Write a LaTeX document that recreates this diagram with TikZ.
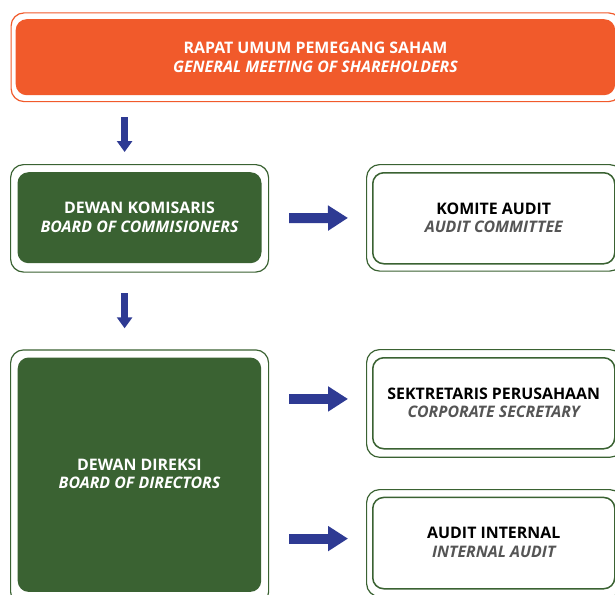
\documentclass[tikz,border=0pt]{standalone}
\usepackage{fontspec}
\setmainfont{Open Sans}[BoldFont={Open Sans Bold}, BoldItalicFont={Open Sans Bold Italic}]
\usetikzlibrary{arrows.meta}
\definecolor{rorange}{HTML}{F15A2B}
\definecolor{rgreen}{HTML}{3A6232}
\definecolor{rblue}{HTML}{2E3A93}
\definecolor{rgrey}{HTML}{555555}
\tikzset{
  outerbox/.style={draw=#1, line width=1.2pt, rounded corners=13pt, fill=white, inner sep=0pt},
  innerfill/.style={fill=#1, draw=none, rounded corners=11pt, inner sep=0pt},
  innerline/.style={draw=rgreen, line width=1.5pt, fill=white, rounded corners=11pt, inner sep=0pt},
  lbl/.style={align=center, font=\fontsize{15.9}{18.7}\selectfont\bfseries, inner sep=0pt},
  dnarrow/.style={draw=rblue, line width=6.5pt, -{Triangle[length=11pt,width=15pt]}},
  rtarrow/.style={draw=rblue, line width=10pt, -{Triangle[length=20pt,width=24pt]}},
}
\begin{document}
\begin{tikzpicture}[x=1pt,y=-1pt]
\useasboundingbox (0,0) rectangle (615,594);
\clip (0,0) rectangle (615,594);
% top box
\node[outerbox=rorange, minimum width=610.5pt, minimum height=88.7pt, anchor=north west] (rupsO) at (10.5,12.3) {};
\node[innerfill=rorange, minimum width=599.5pt, minimum height=76pt, anchor=north west] (rups) at (15.5,19) {};
\node[lbl, text=white] (rupsT) at (rups.center) {RAPAT UMUM PEMEGANG SAHAM\\\itshape GENERAL MEETING OF SHAREHOLDERS};
% dewan komisaris
\node[outerbox=rgreen, minimum width=258pt, minimum height=107.5pt, anchor=north west] (komO) at (10,164) {};
\node[innerfill=rgreen, minimum width=244pt, minimum height=91pt, anchor=north west] (kom) at (17.3,172) {};
\node[lbl, text=white] (komT) at ([yshift=0.5pt]kom.center) {DEWAN KOMISARIS\\\itshape BOARD OF COMMISIONERS};
% komite audit
\node[outerbox=rgreen, minimum width=256pt, minimum height=106.5pt, anchor=north west] (kaO) at (366,164) {};
\node[innerline, minimum width=242pt, minimum height=91pt, anchor=north west] (ka) at (372,172) {};
\node[lbl] (kaT) at ([yshift=0.5pt]ka.center) {KOMITE AUDIT\\\color{rgrey}\itshape AUDIT COMMITTEE};
% dewan direksi
\node[outerbox=rgreen, minimum width=258pt, minimum height=255pt, anchor=north west] (dirO) at (10,349.3) {};
\node[innerfill=rgreen, minimum width=243.5pt, minimum height=234.4pt, anchor=north west] (dir) at (17.5,357.3) {};
\node[lbl, text=white] (dirT) at ([yshift=1pt]dir.center) {DEWAN DIREKSI\\\itshape BOARD OF DIRECTORS};
% sekretaris
\node[outerbox=rgreen, minimum width=256pt, minimum height=107.7pt, anchor=north west] (sekO) at (366,349) {};
\node[innerline, minimum width=242pt, minimum height=91pt, anchor=north west] (sek) at (372,357) {};
\node[lbl] (sekT) at ([yshift=0.5pt]sek.center) {SEKTRETARIS PERUSAHAAN\\\color{rgrey}\itshape CORPORATE SECRETARY};
% audit internal
\node[outerbox=rgreen, minimum width=256pt, minimum height=107pt, anchor=north west] (aiO) at (366,489) {};
\node[innerline, minimum width=242pt, minimum height=91.3pt, anchor=north west] (ai) at (372,496.7) {};
\node[lbl] (aiT) at ([yshift=0.5pt]ai.center) {AUDIT INTERNAL\\\color{rgrey}\itshape INTERNAL AUDIT};
% arrows
\draw[dnarrow, shorten <=15pt, shorten >=12pt] ([xshift=-15pt]komO.north |- rupsO.south) -- ([xshift=-15pt]komO.north);
\draw[dnarrow, shorten <=20.5pt, shorten >=21pt] ([xshift=-15pt]komO.south) -- ([xshift=-15pt]dirO.north);
\draw[rtarrow, shorten <=20pt, shorten >=18pt] (komO.east) -- (kaO.west);
\draw[rtarrow, shorten <=20pt, shorten >=18pt] ([yshift=4.5pt]sekO.west -| dirO.east) -- ([yshift=4.5pt]sekO.west);
\draw[rtarrow, shorten <=20pt, shorten >=18pt] ([yshift=4.5pt]aiO.west -| dirO.east) -- ([yshift=4.5pt]aiO.west);
\end{tikzpicture}
\end{document}
